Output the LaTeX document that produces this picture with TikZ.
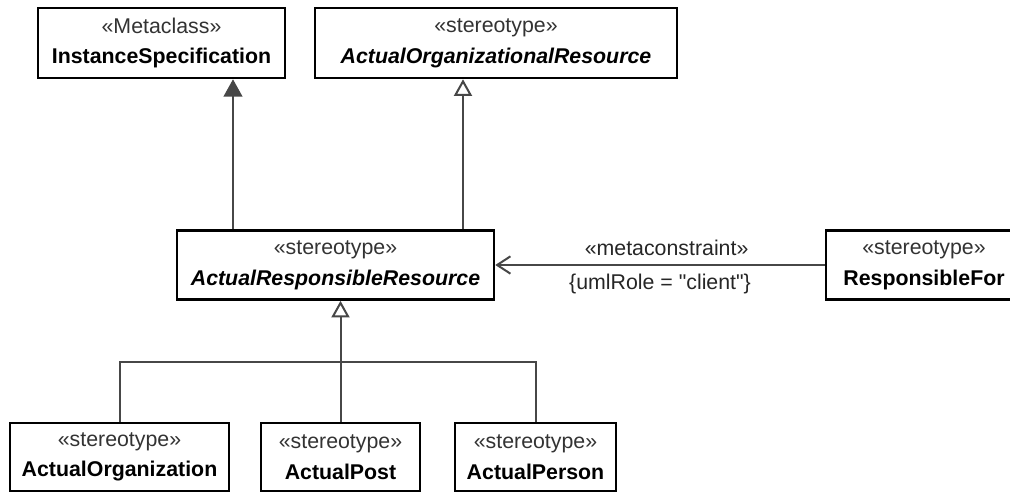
\documentclass[tikz,border=0pt]{standalone}
\usepackage{fontspec}
\setmainfont{Liberation Sans}[Ligatures=TeXOff]
\usetikzlibrary{arrows.meta}
\newcommand{\stype}[1]{\textcolor{black!80}{«#1»}}

\begin{document}
\begin{tikzpicture}[
    x=0.75pt, y=-0.75pt,
    stereo/.style={rectangle, draw=black, line width=1.9pt, fill=white,
        align=center, inner sep=0pt, font=\fontsize{16}{23}\selectfont},
    link/.style={draw=black!72, line width=1.5pt},
    gen/.style={link, -{Triangle[open, length=12.5pt, width=13.5pt, fill=white]}},
    genfill/.style={link, -{Triangle[length=13pt, width=14pt]}},
    assoc/.style={link, -{Straight Barb[length=10pt, width=13pt]}},
    label/.style={font=\fontsize{16}{18}\selectfont, text=black!85}
]
\useasboundingbox (0,0) rectangle (1010,493);

% Top row
\node[stereo, minimum width=185.25pt, minimum height=52.5pt] (inst) at (161.5,43)
    {\stype{Metaclass}\\\textbf{InstanceSpecification}};
\node[stereo, minimum width=271.5pt, minimum height=52.5pt] (aor) at (496,43)
    {\stype{stereotype}\\\textbf{\textit{ActualOrganizationalResource}}};

% Middle row
\node[stereo, minimum width=237.75pt, minimum height=51.75pt] (arr) at (335.5,265)
    {\stype{stereotype}\\\textbf{\textit{ActualResponsibleResource}}};
\node[stereo, minimum width=147pt, minimum height=51.75pt] (resp) at (924,265)
    {\stype{stereotype}\\\textbf{ResponsibleFor}};

% Bottom row
\node[stereo, minimum width=164.25pt, minimum height=51pt] (org) at (119.5,457)
    {\stype{stereotype}\\\textbf{ActualOrganization}};
\node[stereo, minimum width=119.25pt, minimum height=51pt] (post) at (340.5,457)
    {\stype{stereotype}\\\textbf{ActualPost}};
\node[stereo, minimum width=120.75pt, minimum height=51pt] (person) at (535.5,457)
    {\stype{stereotype}\\\textbf{ActualPerson}};

% Generalizations upward
\coordinate (ta) at (233,0);
\coordinate (tb) at (463,0);
\draw[genfill] (arr.north -| ta) -- (inst.south -| ta);
\draw[gen] (arr.north -| tb) -- (aor.south -| tb);

% Specializations of ActualResponsibleResource
\coordinate (split) at (339,362);
\draw[link] (org.north) |- (person.north |- split) -- (person.north);
\draw[gen] (post.north) -- (post.north |- arr.south);

% Metaconstraint
\draw[assoc] (resp.west) -- (arr.east)
    node[label, pos=0.48, above=3pt] (mc) {«metaconstraint»}
    node[label, pos=0.5, below=3pt] (role) {\{umlRole = "client"\}};

\end{tikzpicture}
\end{document}
